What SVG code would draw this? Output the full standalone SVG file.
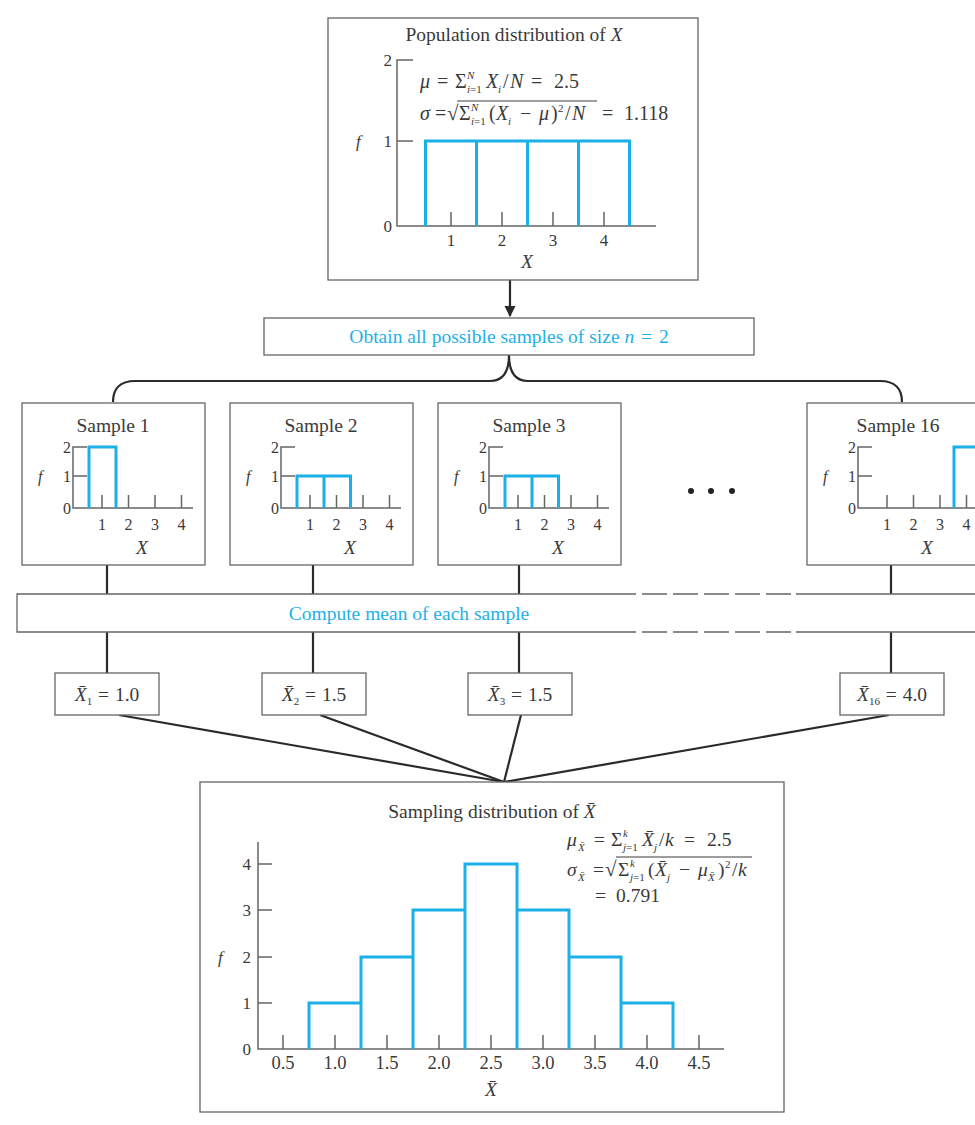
<svg xmlns="http://www.w3.org/2000/svg" width="975" height="1125" viewBox="0 0 975 1125">
<defs>
<style>
text{font-family:"Liberation Serif","Times New Roman",serif;fill:#3a3a3a}
.t{font-size:19.5px}
.tk{font-size:17px}
.tks{font-size:16px}
.tkb{font-size:18.5px}
.fm{font-size:20px}
.sm{font-size:11px}
.rt{font-size:21px}
.it{font-style:italic}
.mid{text-anchor:middle}
.end{text-anchor:end}
.blue{fill:#1fb0e8}
.box{fill:#fff;stroke:#666;stroke-width:1.3}
.ax{fill:none;stroke:#666;stroke-width:1.5}
.bar{fill:none;stroke:#1cb0ea;stroke-width:3}
.con{fill:none;stroke:#2a2a2a;stroke-width:2.2}
.ov{stroke:#3a3a3a;stroke-width:1}
</style>
<marker id="arr" viewBox="0 0 10 10" refX="9" refY="5" markerWidth="5" markerHeight="6" orient="auto" markerUnits="strokeWidth">
<path d="M0,0 L10,5 L0,10 z" fill="#2a2a2a"/>
</marker>
</defs>
<rect width="975" height="1125" fill="#fff"/>

<g id="connectors">
<line class="con" x1="510" y1="280" x2="510" y2="316" marker-end="url(#arr)"/>
<path class="con" d="M113,402 C113,389 120,381 135,381 L490,381 C503,381 509,372 509,355 C509,372 515,381 528,381 L880,381 C895,381 902,389 902,402"/>
<line class="con" x1="107" y1="565" x2="107" y2="594"/>
<line class="con" x1="313" y1="565" x2="313" y2="594"/>
<line class="con" x1="519" y1="565" x2="519" y2="594"/>
<line class="con" x1="891" y1="565" x2="891" y2="594"/>
<line class="con" x1="107" y1="632" x2="107" y2="673"/>
<line class="con" x1="313" y1="632" x2="313" y2="673"/>
<line class="con" x1="519" y1="632" x2="519" y2="673"/>
<line class="con" x1="891" y1="632" x2="891" y2="673"/>
<line class="con" x1="119" y1="715" x2="504" y2="782"/>
<line class="con" x1="320" y1="715" x2="504" y2="782"/>
<line class="con" x1="521" y1="715" x2="504" y2="782"/>
<line class="con" x1="889" y1="715" x2="504" y2="782"/>
</g>

<g id="population">
<rect class="box" x="328" y="18" width="370" height="262"/>
<text class="t mid" x="514" y="41">Population distribution of <tspan class="it">X</tspan></text>
<path class="ax" d="M413,60 H397 V226 H656 M397,141 H413 M451,226 V212 M502,226 V212 M553,226 V212 M604,226 V212"/>
<path class="bar" d="M425.5,226 V141 H629.5 V226 M476.5,141 V226 M527.5,141 V226 M578.5,141 V226"/>
<text class="tk end" x="392" y="66">2</text>
<text class="tk end" x="392" y="147">1</text>
<text class="tk end" x="392" y="232">0</text>
<text class="tk it" x="356" y="147">f</text>
<text class="tk mid" x="451" y="246">1</text>
<text class="tk mid" x="502" y="246">2</text>
<text class="tk mid" x="553" y="246">3</text>
<text class="tk mid" x="604" y="246">4</text>
<text class="t mid it" x="527" y="268">X</text>
<text class="fm" y="88"><tspan class="it" x="420">μ</tspan><tspan x="437">=</tspan><tspan x="455">Σ</tspan><tspan class="sm it" x="467" y="79">N</tspan><tspan class="sm" x="467" y="93"><tspan class="it">i</tspan>=1</tspan><tspan class="it" x="486" y="88">X</tspan><tspan class="sm it" x="498" y="93">i</tspan><tspan x="503" y="88">/</tspan><tspan class="it" x="510">N</tspan><tspan x="531">=</tspan><tspan x="554">2.5</tspan></text>
<text class="fm" y="120"><tspan class="it" x="420">σ</tspan><tspan x="435">=</tspan><tspan class="rt" x="447">√</tspan><tspan x="459">Σ</tspan><tspan class="sm it" x="471" y="111">N</tspan><tspan class="sm" x="471" y="125"><tspan class="it">i</tspan>=1</tspan><tspan x="489" y="120">(</tspan><tspan class="it" x="496">X</tspan><tspan class="sm it" x="508" y="125">i</tspan><tspan x="520" y="120">−</tspan><tspan class="it" x="539">μ</tspan><tspan x="551">)</tspan><tspan x="558" class="sm" y="112">2</tspan><tspan x="565" y="120">/</tspan><tspan class="it" x="572">N</tspan><tspan x="602">=</tspan><tspan x="624">1.118</tspan></text>
<line class="ov" x1="457" y1="101" x2="597" y2="101"/>
</g>

<g id="obtain">
<rect class="box" x="264" y="318" width="490" height="37"/>
<text class="t mid blue" x="509" y="343">Obtain all possible samples of size <tspan class="it">n</tspan><tspan dx="2"> = </tspan><tspan dx="2">2</tspan></text>
</g>

<g id="sample1" transform="translate(22,403)">
<rect class="box" x="0" y="0" width="183" height="162"/>
<text class="t mid" x="91" y="29">Sample 1</text>
<path class="ax" d="M65,44 H51 V105 H171 M51,73 H65 M80,105 V92 M106.5,105 V92 M133,105 V92 M159.5,105 V92"/>
<path class="bar" d="M67,105 V44 H94 V105"/>
<text class="tks end" x="49" y="50">2</text>
<text class="tks end" x="49" y="79">1</text>
<text class="tks end" x="49" y="111">0</text>
<text class="tks it" x="16" y="79">f</text>
<text class="tks mid" x="80" y="127">1</text>
<text class="tks mid" x="106.5" y="127">2</text>
<text class="tks mid" x="133" y="127">3</text>
<text class="tks mid" x="159.5" y="127">4</text>
<text class="t mid it" x="120" y="151">X</text>
</g>

<g id="sample2" transform="translate(230,403)">
<rect class="box" x="0" y="0" width="183" height="162"/>
<text class="t mid" x="91" y="29">Sample 2</text>
<path class="ax" d="M65,44 H51 V105 H171 M51,73 H65 M80,105 V92 M106.5,105 V92 M133,105 V92 M159.5,105 V92"/>
<path class="bar" d="M67,105 V73 H120.5 V105 M94,73 V105"/>
<text class="tks end" x="49" y="50">2</text>
<text class="tks end" x="49" y="79">1</text>
<text class="tks end" x="49" y="111">0</text>
<text class="tks it" x="16" y="79">f</text>
<text class="tks mid" x="80" y="127">1</text>
<text class="tks mid" x="106.5" y="127">2</text>
<text class="tks mid" x="133" y="127">3</text>
<text class="tks mid" x="159.5" y="127">4</text>
<text class="t mid it" x="120" y="151">X</text>
</g>

<g id="sample3" transform="translate(438,403)">
<rect class="box" x="0" y="0" width="183" height="162"/>
<text class="t mid" x="91" y="29">Sample 3</text>
<path class="ax" d="M65,44 H51 V105 H171 M51,73 H65 M80,105 V92 M106.5,105 V92 M133,105 V92 M159.5,105 V92"/>
<path class="bar" d="M67,105 V73 H120.5 V105 M94,73 V105"/>
<text class="tks end" x="49" y="50">2</text>
<text class="tks end" x="49" y="79">1</text>
<text class="tks end" x="49" y="111">0</text>
<text class="tks it" x="16" y="79">f</text>
<text class="tks mid" x="80" y="127">1</text>
<text class="tks mid" x="106.5" y="127">2</text>
<text class="tks mid" x="133" y="127">3</text>
<text class="tks mid" x="159.5" y="127">4</text>
<text class="t mid it" x="120" y="151">X</text>
</g>

<g id="ellipsis">
<circle cx="691" cy="491" r="3" fill="#222"/>
<circle cx="711" cy="491" r="3" fill="#222"/>
<circle cx="732" cy="491" r="3" fill="#222"/>
</g>

<g id="sample16" transform="translate(807,403)">
<rect class="box" x="0" y="0" width="183" height="162"/>
<text class="t mid" x="91" y="29">Sample 16</text>
<path class="ax" d="M65,44 H51 V105 H171 M51,73 H65 M80,105 V92 M106.5,105 V92 M133,105 V92 M159.5,105 V92"/>
<path class="bar" d="M147,105 V44 H174 V105"/>
<text class="tks end" x="49" y="50">2</text>
<text class="tks end" x="49" y="79">1</text>
<text class="tks end" x="49" y="111">0</text>
<text class="tks it" x="16" y="79">f</text>
<text class="tks mid" x="80" y="127">1</text>
<text class="tks mid" x="106.5" y="127">2</text>
<text class="tks mid" x="133" y="127">3</text>
<text class="tks mid" x="159.5" y="127">4</text>
<text class="t mid it" x="120" y="151">X</text>
</g>

<g id="compute">
<rect x="17" y="594" width="975" height="38" fill="#fff"/>
<path class="box" d="M636,594 H17 V632 H636 M796,594 H992 M796,632 H992"/>
<path class="box" d="M642,594 H792 M642,632 H792" stroke-dasharray="25 6"/>
<text class="t mid blue" x="409" y="620">Compute mean of each sample</text>
</g>

<g id="mean1">
<rect class="box" x="55" y="673" width="104" height="42"/>
<text class="t mid" x="107" y="701"><tspan class="it">X̄</tspan><tspan class="sm" dy="4">1</tspan><tspan dx="1" dy="-4"> = </tspan><tspan dx="1">1.0</tspan></text>
</g>
<g id="mean2">
<rect class="box" x="262" y="673" width="104" height="42"/>
<text class="t mid" x="314" y="701"><tspan class="it">X̄</tspan><tspan class="sm" dy="4">2</tspan><tspan dx="1" dy="-4"> = </tspan><tspan dx="1">1.5</tspan></text>
</g>
<g id="mean3">
<rect class="box" x="468" y="673" width="104" height="42"/>
<text class="t mid" x="520" y="701"><tspan class="it">X̄</tspan><tspan class="sm" dy="4">3</tspan><tspan dx="1" dy="-4"> = </tspan><tspan dx="1">1.5</tspan></text>
</g>
<g id="mean16">
<rect class="box" x="840" y="673" width="104" height="42"/>
<text class="t mid" x="892" y="701"><tspan class="it">X̄</tspan><tspan class="sm" dy="4">16</tspan><tspan dx="1" dy="-4"> = </tspan><tspan dx="1">4.0</tspan></text>
</g>

<g id="sampling">
<rect class="box" x="200" y="782" width="584" height="330"/>
<text class="t mid" x="492" y="818">Sampling distribution of <tspan class="it">X̄</tspan></text>
<path class="ax" d="M258,842 V1049 H724 M258,864 H272 M258,910 H272 M258,957 H272 M258,1003 H272 M283,1049 V1035 M335,1049 V1035 M387,1049 V1035 M439,1049 V1035 M491,1049 V1035 M543,1049 V1035 M595,1049 V1035 M647,1049 V1035 M699,1049 V1035"/>
<path class="bar" d="M309,1049 V1003 H361 V957 H413 V910 H465 V864 H517 V910 H569 V957 H621 V1003 H673 V1049 M361,1003 V1049 M413,957 V1049 M465,910 V1049 M517,910 V1049 M569,957 V1049 M621,1003 V1049"/>
<text class="tk end" x="251" y="870">4</text>
<text class="tk end" x="251" y="916">3</text>
<text class="tk end" x="251" y="963">2</text>
<text class="tk end" x="251" y="1009">1</text>
<text class="tk end" x="251" y="1055">0</text>
<text class="tk it" x="218" y="963">f</text>
<text class="tkb mid" x="283" y="1069">0.5</text>
<text class="tkb mid" x="335" y="1069">1.0</text>
<text class="tkb mid" x="387" y="1069">1.5</text>
<text class="tkb mid" x="439" y="1069">2.0</text>
<text class="tkb mid" x="491" y="1069">2.5</text>
<text class="tkb mid" x="543" y="1069">3.0</text>
<text class="tkb mid" x="595" y="1069">3.5</text>
<text class="tkb mid" x="647" y="1069">4.0</text>
<text class="tkb mid" x="699" y="1069">4.5</text>
<text class="t mid it" x="491" y="1096">X̄</text>
<text class="t" y="846"><tspan class="it" x="567">μ</tspan><tspan class="sm it" x="578" y="851">X̄</tspan><tspan x="594" y="846">=</tspan><tspan x="611">Σ</tspan><tspan class="sm it" x="623" y="837">k</tspan><tspan class="sm" x="623" y="851"><tspan class="it">j</tspan>=1</tspan><tspan class="it" x="642" y="846">X̄</tspan><tspan class="sm it" x="654" y="851">j</tspan><tspan x="659" y="846">/</tspan><tspan class="it" x="665">k</tspan><tspan x="684">=</tspan><tspan x="707">2.5</tspan></text>
<text class="t" y="876"><tspan class="it" x="567">σ</tspan><tspan class="sm it" x="578" y="881">X̄</tspan><tspan x="593" y="876">=</tspan><tspan class="rt" x="605">√</tspan><tspan x="618">Σ</tspan><tspan class="sm it" x="630" y="867">k</tspan><tspan class="sm" x="630" y="881"><tspan class="it">j</tspan>=1</tspan><tspan x="648" y="876">(</tspan><tspan class="it" x="655">X̄</tspan><tspan class="sm it" x="667" y="881">j</tspan><tspan x="679" y="876">−</tspan><tspan class="it" x="698">μ</tspan><tspan class="sm it" x="708" y="881">X̄</tspan><tspan x="718" y="876">)</tspan><tspan class="sm" x="725" y="868">2</tspan><tspan x="732" y="876">/</tspan><tspan class="it" x="738">k</tspan></text>
<line class="ov" x1="616" y1="857" x2="752" y2="857"/>
<text class="t" y="902"><tspan x="595">=</tspan><tspan x="616">0.791</tspan></text>
</g>
</svg>
